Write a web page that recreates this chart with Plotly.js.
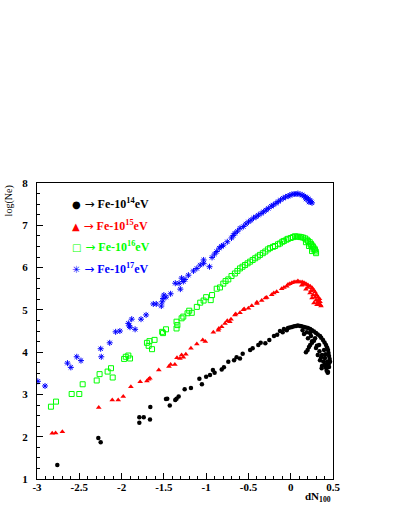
<!DOCTYPE html>
<html>
<head>
<meta charset="utf-8">
<script src="https://cdn.plot.ly/plotly-3.0.1.min.js"></script>
<style>
  html, body { margin: 0; padding: 0; background: #fff; }
  #graph { width: 399px; height: 516px; }
</style>
</head>
<body>
<div id="graph"></div>
<script>
// Fe 10^14 eV (black circles)
const fe14X = [-2.76, -2.275, -2.247, -1.79, -1.79, -1.738, -1.664, -1.66, -1.475, -1.46, -1.43, -1.365, -1.35, -1.325,
  -1.254, -1.18, -1.08, -1.05, -1.0, -0.954, -0.92, -0.90, -0.816, -0.79, -0.738, -0.67, -0.64, -0.60, -0.568,
  -0.48, -0.45, -0.383, -0.355, -0.30, -0.253, -0.198, -0.16, -0.127, -0.095, -0.08, -0.047, -0.032,
  0.015, 0.063, 0.11, 0.157, 0.204, 0.252, 0.299, 0.346, 0.382, 0.417, 0.441, 0.453, 0.465, 0.453, 0.441,
  0.417, 0.37, 0.346, 0.32, 0.299, 0.252, 0.204, 0.157, 0.18, 0.216, 0.252, 0.394, 0.405, 0.43, 0.37, 0.335,
  0.288, 0.228, 0.437, 0.366,
  -0.01, 0.04, 0.085, 0.13, 0.18, 0.23, 0.275, 0.32, 0.36, 0.40, 0.43, 0.447, 0.46, 0.45, 0.425, 0.40,
  0.385, 0.36, 0.34, 0.31, 0.275, 0.24, 0.19, 0.14, 0.20, 0.23, 0.41, 0.42];
const fe14Y = [1.33, 1.97, 1.87, 2.46, 2.33, 2.46, 2.41, 2.70, 2.89, 2.90, 2.74, 2.87, 2.90, 2.95,
  3.12, 3.15, 3.37, 3.24, 3.42, 3.46, 3.58, 3.51, 3.59, 3.64, 3.77, 3.81, 3.88, 3.85, 3.96,
  4.05, 4.09, 4.17, 4.22, 4.21, 4.29, 4.38, 4.41, 4.50, 4.47, 4.55, 4.52, 4.57,
  4.595, 4.62, 4.62, 4.595, 4.57, 4.52, 4.45, 4.38, 4.29, 4.17, 4.05, 3.91, 3.77, 3.65, 3.53,
  3.63, 3.67, 3.81, 3.93, 4.10, 4.22, 4.33, 4.43, 4.00, 4.12, 4.26, 4.05, 3.86, 3.77, 3.93, 4.17,
  4.33, 4.45, 3.51, 3.62,
  4.58, 4.61, 4.63, 4.61, 4.58, 4.55, 4.49, 4.42, 4.34, 4.23, 4.11, 3.98, 3.84, 3.72, 3.56, 3.70,
  3.78, 3.88, 4.02, 4.15, 4.27, 4.38, 4.47, 4.52, 4.05, 4.17, 3.95, 3.70];

// Fe 10^15 eV (red triangles)
const fe15X = [-2.82, -2.78, -2.70, -2.27, -2.11, -2.04, -1.98, -1.89, -1.78, -1.70, -1.68, -1.665, -1.56, -1.44,
  -1.42, -1.37, -1.345, -1.31, -1.29, -1.27, -1.24, -1.18, -1.11, -1.04, -1.01, -0.915, -0.856, -0.816, -0.777,
  -0.72, -0.706, -0.66, -0.60, -0.56, -0.50, -0.46, -0.40, -0.343, -0.284, -0.225, -0.166, -0.107, -0.047,
  -0.032, 0.015, 0.063, 0.11, 0.157, 0.204, 0.252, 0.287, 0.322, 0.346, 0.358, 0.311, 0.275, 0.252, 0.228,
  0.18, 0.299, 0.335, 0.264, 0.13, 0.30, 0.34,
  -0.01, 0.04, 0.085, 0.135, 0.18, 0.23, 0.27, 0.305, 0.33, 0.35, 0.32, 0.29, 0.24, 0.20, 0.15,
  -0.08, -0.2, -0.3, -0.4, -0.55, -0.65, -0.75, -0.85];
const fe15Y = [2.08, 2.09, 2.12, 2.69, 2.87, 2.87, 2.95, 3.18, 3.30, 3.32, 3.36, 3.38, 3.58, 3.66,
  3.71, 3.71, 3.87, 3.85, 3.93, 3.88, 3.95, 4.09, 4.19, 4.29, 4.25, 4.47, 4.52, 4.60, 4.68,
  4.72, 4.78, 4.88, 4.93, 5.00, 5.04, 5.10, 5.15, 5.22, 5.29, 5.36, 5.43, 5.50, 5.56,
  5.60, 5.64, 5.66, 5.66, 5.64, 5.59, 5.52, 5.42, 5.30, 5.19, 5.09, 5.12, 5.16, 5.28, 5.40,
  5.49, 5.23, 5.14, 5.35, 5.58, 5.36, 5.26,
  5.62, 5.66, 5.68, 5.66, 5.62, 5.56, 5.47, 5.36, 5.22, 5.12, 5.18, 5.30, 5.45, 5.53, 5.60,
  5.53, 5.40, 5.28, 5.18, 5.02, 4.90, 4.74, 4.56];

// Fe 10^16 eV (green open squares)
const fe16X = [-2.835, -2.775, -2.59, -2.50, -2.46, -2.294, -2.26, -2.165, -2.125, -2.105, -1.97, -1.95, -1.92, -1.90,
  -1.70, -1.68, -1.67, -1.64, -1.61, -1.52, -1.51, -1.475, -1.35, -1.35, -1.34, -1.29, -1.27, -1.22, -1.20, -1.17,
  -1.11, -1.07, -1.03, -1.00, -0.946, -0.93, -0.875, -0.836, -0.797, -0.738, -0.70, -0.66, -0.60, -0.57, -0.54,
  -0.48, -0.45, -0.42, -0.363, -0.33, -0.30, -0.245, -0.21, -0.186, -0.127, -0.10, -0.08, -0.032,
  0.027, 0.075, 0.122, 0.17, 0.204, 0.24, 0.264, 0.287, 0.30, 0.252, 0.216, 0.18,
  0.0, 0.05, 0.10, 0.145, 0.19, 0.225, 0.255, 0.28, 0.295, 0.27, 0.235,
  -0.05, -0.15, -0.27, -0.39, -0.51, -0.63, -0.77];
const fe16Y = [2.71, 2.83, 3.01, 3.01, 3.24, 3.33, 3.48, 3.54, 3.62, 3.40, 3.84, 3.89, 3.92, 3.85,
  4.22, 4.15, 4.26, 4.07, 4.29, 4.48, 4.45, 4.54, 4.72, 4.56, 4.64, 4.80, 4.84, 4.92, 4.98, 4.93,
  5.07, 5.17, 5.22, 5.30, 5.23, 5.35, 5.50, 5.53, 5.62, 5.72, 5.80, 5.86, 5.98, 6.02, 6.06,
  6.14, 6.18, 6.22, 6.30, 6.34, 6.38, 6.46, 6.49, 6.51, 6.57, 6.61, 6.63, 6.68,
  6.72, 6.73, 6.72, 6.69, 6.63, 6.56, 6.49, 6.42, 6.34, 6.39, 6.51, 6.60,
  6.70, 6.74, 6.73, 6.71, 6.66, 6.60, 6.52, 6.45, 6.38, 6.43, 6.54,
  6.66, 6.55, 6.43, 6.26, 6.10, 5.92, 5.68];

// Fe 10^17 eV (blue stars)
const fe17X = [-2.99, -2.905, -2.64, -2.60, -2.53, -2.48, -2.247, -2.24, -2.14, -2.07, -2.02, -1.92, -1.91, -1.88,
  -1.84, -1.90, -1.77, -1.71, -1.625, -1.59, -1.53, -1.52, -1.51, -1.50, -1.475, -1.42, -1.365, -1.32, -1.305,
  -1.27, -1.25, -1.29, -1.21, -1.15, -1.11, -1.07, -1.03, -1.03, -0.96, -0.93, -0.90, -0.875, -0.845, -0.797,
  -0.75, -0.70, -0.66, -0.63, -0.60, -0.56, -0.50, -0.47, -0.44, -0.383, -0.35, -0.32, -0.265, -0.23, -0.206,
  -0.147, -0.12, -0.088, -0.03, 0.015, 0.063, 0.11, 0.157, 0.193, 0.228, 0.252, 0.216, 0.18,
  -0.01, 0.04, 0.085, 0.135, 0.175, 0.21, 0.24,
  -0.06, -0.175, -0.29, -0.41, -0.53, -0.68, -0.82];
const fe17Y = [3.31, 3.20, 3.74, 3.64, 3.89, 3.80, 4.08, 3.89, 4.22, 4.48, 4.50, 4.68, 4.62, 4.78,
  4.54, 4.59, 4.78, 4.88, 5.14, 5.14, 5.09, 5.19, 5.27, 5.35, 5.30, 5.38, 5.63, 5.63, 5.49,
  5.67, 5.72, 5.75, 5.82, 5.92, 5.98, 6.06, 6.10, 6.18, 6.02, 6.24, 6.32, 6.38, 6.46, 6.53,
  6.61, 6.70, 6.81, 6.86, 6.93, 6.97, 7.08, 7.12, 7.17, 7.24, 7.28, 7.32, 7.40, 7.45, 7.48,
  7.56, 7.60, 7.64, 7.69, 7.73, 7.74, 7.73, 7.69, 7.65, 7.59, 7.53, 7.55, 7.62,
  7.71, 7.74, 7.75, 7.72, 7.67, 7.62, 7.56,
  7.67, 7.52, 7.36, 7.20, 7.03, 6.76, 6.50];

const xTickVals = [-3, -2.5, -2, -1.5, -1, -0.5, 0, 0.5];
const xTickText = ['-3', '-2.5', '-2', '-1.5', '-1', '-0.5', '0', '0.5'];
const yTickVals = [1, 2, 3, 4, 5, 6, 7, 8];

// legend rows
const legendExps = [14, 15, 16, 17];
const legendColors = ['black', 'red', '#00ff00', 'blue'];
const legendGlyphs = ['\u25CF', '\u25B2', '\u25A1', '\u2733'];

const serif = 'Liberation Serif, Times New Roman, serif';

const series = [
  { x: fe14X, y: fe14Y, marker: { symbol: 'circle', size: 4.5, color: 'black' } },
  { x: fe15X, y: fe15Y, marker: { symbol: 'triangle-up', size: 5, color: 'red' } },
  { x: fe16X, y: fe16Y, marker: { symbol: 'square-open', size: 5, color: '#00ff00', line: { width: 1 } } },
  { x: fe17X, y: fe17Y, marker: { symbol: 'asterisk-open', size: 5, color: 'blue', line: { width: 1, color: 'blue' } } },
];
const traces = series.map(t => Object.assign({ type: 'scatter', mode: 'markers', showlegend: false }, t));

const legendNotes = legendExps.map((e, i) => ({
  xref: 'paper', yref: 'paper', x: 0.112, y: 0.93 - i * 0.0725,
  xanchor: 'left', yanchor: 'middle', showarrow: false,
  font: { family: serif, size: 12, color: legendColors[i] },
  text: '<span style="font-family:DejaVu Sans;font-size:10px">' + legendGlyphs[i] + '</span>' +
        '<span style="font-family:DejaVu Sans"> \u2192</span>' +
        '<b> Fe-10<sup>' + e + '</sup>eV</b>',
}));

const axisBase = {
  showgrid: false,
  zeroline: false,
  showline: true,
  linecolor: 'black',
  linewidth: 1,
  mirror: true,
  ticks: 'inside',
  ticklen: 6,
  tickwidth: 1,
  tickcolor: 'black',
  tickfont: { family: serif, size: 11, color: 'black', weight: 'bold' },
};

const layout = {
  width: 399,
  height: 516,
  margin: { l: 37, r: 66, t: 183, b: 37 },
  paper_bgcolor: 'white',
  plot_bgcolor: 'white',
  showlegend: false,
  xaxis: Object.assign({}, axisBase, {
    range: [-3, 0.5],
    tickmode: 'array',
    tickvals: xTickVals,
    ticktext: xTickText,
    ticklabelstandoff: -2,
    minor: { tick0: -3, dtick: 0.1, ticks: 'inside', ticklen: 3, tickcolor: 'black', showgrid: false },
  }),
  yaxis: Object.assign({}, axisBase, {
    range: [1, 8],
    tickmode: 'array',
    tickvals: yTickVals,
    ticklabelstandoff: 6,
    minor: { tick0: 1, dtick: 0.25, ticks: 'inside', ticklen: 3, tickcolor: 'black', showgrid: false },
  }),
  annotations: [
    { text: 'log(Ne)', xref: 'paper', yref: 'paper', x: -0.095, y: 1, xanchor: 'center', yanchor: 'top',
      textangle: -90, showarrow: false, font: { family: serif, size: 10, color: 'black' } },
    { text: '<b>dN<sub>100</sub></b>', xref: 'paper', yref: 'paper', x: 1, y: -0.06, xanchor: 'right',
      yanchor: 'middle', showarrow: false, font: { family: serif, size: 11, color: 'black' } },
  ].concat(legendNotes),
};

Plotly.newPlot('graph', traces, layout, { displayModeBar: false, staticPlot: true });
</script>
</body>
</html>
